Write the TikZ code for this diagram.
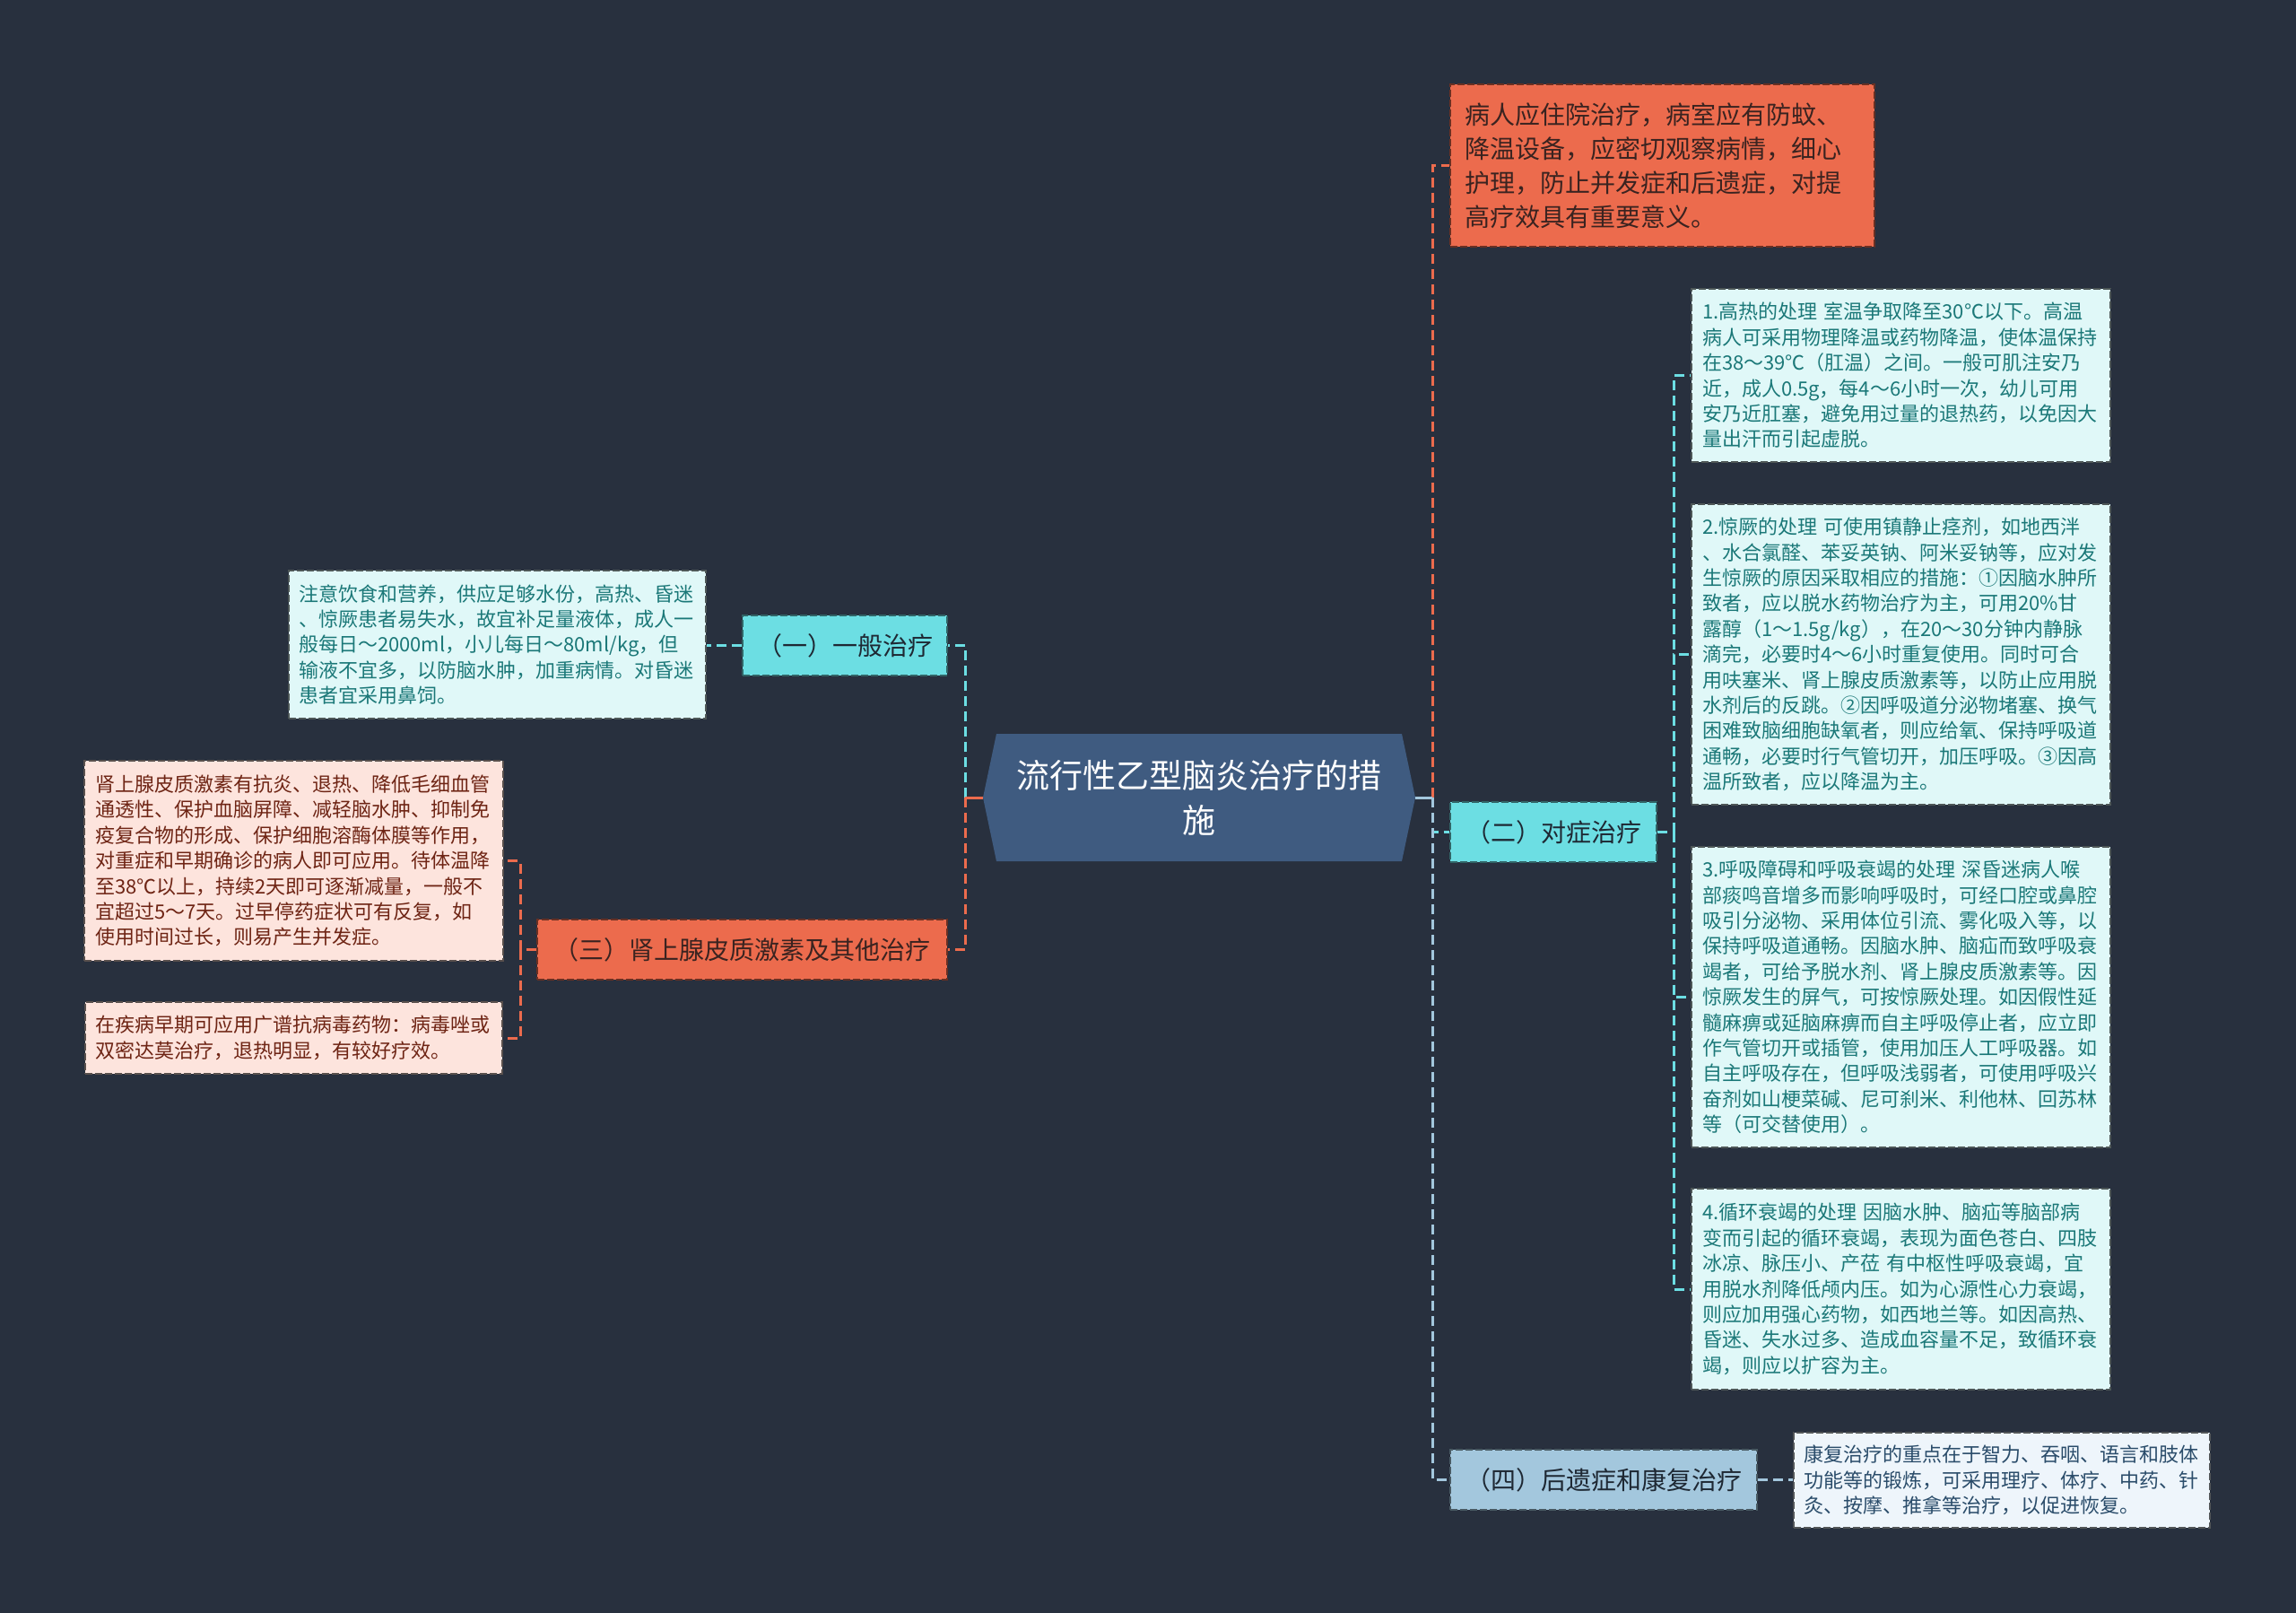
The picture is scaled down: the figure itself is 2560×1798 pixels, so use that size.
\documentclass[tikz,border=0pt]{standalone}
\usepackage{fontspec}
\newfontfamily\cjk{Noto Sans CJK SC}
\usetikzlibrary{calc}
\definecolor{bgc}{HTML}{28303E}
\definecolor{orangec}{HTML}{EC6B4D}
\definecolor{cyanc}{HTML}{6CDEE3}
\definecolor{lbluec}{HTML}{A3C7DD}
\definecolor{centerc}{HTML}{3F5B80}
\definecolor{leafcyan}{HTML}{E0F8F8}
\definecolor{leafpink}{HTML}{FDE4DD}
\definecolor{leafblue}{HTML}{EEF5FB}
\definecolor{tealtext}{HTML}{1B7878}
\definecolor{redtext}{HTML}{6E2414}
\definecolor{bluetext}{HTML}{2A4C6A}
\definecolor{darktext}{HTML}{1E2833}
\definecolor{orangetext}{HTML}{3A2320}
\tikzset{
  basebox/.style={inner ysep=0pt, line width=1.5pt, dash pattern=on 8pt off 3pt},
  branchbox/.style={basebox, inner xsep=0pt, font=\cjk\fontsize{28}{36}\selectfont, text=darktext, minimum height=67},
  leafbox/.style={basebox, align=left, font=\cjk\fontsize{22}{28.4}\selectfont},
  leafc/.style={leafbox, fill=leafcyan, draw=leafcyan!35!black, text=tealtext},
  leafp/.style={leafbox, fill=leafpink, draw=leafpink!35!black, text=redtext},
  leafb/.style={leafbox, fill=leafblue, draw=leafblue!35!black, text=bluetext},
  conn/.style={line width=3pt, dash pattern=on 11pt off 6pt},
  solidconn/.style={line width=3pt},
}
\begin{document}
\begin{tikzpicture}[x=1pt,y=-1pt]
\fill[bgc] (0,0) rectangle (2560,1798);
\useasboundingbox (0,0) rectangle (2560,1798);

% center
\fill[centerc] (1111,818) -- (1563,818) -- (1578,889) -- (1563,960) -- (1111,960) -- (1096,889) -- cycle;
\node[font=\cjk\fontsize{37}{50}\selectfont, text=white, align=center, inner sep=0pt,
      minimum width=482, minimum height=142] (c) at (1337,889) {流行性乙型脑炎治疗的措\\施};

% right side
\node[basebox, fill=orangec, draw=orangec!45!black, text=orangetext, align=left,
      font=\cjk\fontsize{28}{38}\selectfont, inner xsep=16pt, text width=441pt,
      minimum width=473, minimum height=181] (o1) at (1853.5,184.5)
  {病人应住院治疗，病室应有防蚊、\\降温设备，应密切观察病情，细心\\护理，防止并发症和后遗症，对提\\高疗效具有重要意义。};

\node[branchbox, fill=cyanc, draw=cyanc!45!black, minimum width=230] (n2) at (1732,927.5) {（二）对症治疗};

\node[leafc, inner xsep=12pt, text width=443pt, minimum width=467, minimum height=193] (r1) at (2119.5,418.5)
  {1.高热的处理 室温争取降至30℃以下。高温\\病人可采用物理降温或药物降温，使体温保持\\在38～39℃（肛温）之间。一般可肌注安乃\\近，成人0.5g，每4～6小时一次，幼儿可用\\安乃近肛塞，避免用过量的退热药，以免因大\\量出汗而引起虚脱。};

\node[leafc, inner xsep=12pt, text width=443pt, minimum width=467, minimum height=335] (r2) at (2119.5,729.5)
  {2.惊厥的处理 可使用镇静止痉剂，如地西泮\\、水合氯醛、苯妥英钠、阿米妥钠等，应对发\\生惊厥的原因采取相应的措施：①因脑水肿所\\致者，应以脱水药物治疗为主，可用20\%甘\\露醇（1～1.5g/kg），在20～30分钟内静脉\\滴完，必要时4～6小时重复使用。同时可合\\用呋塞米、肾上腺皮质激素等，以防止应用脱\\水剂后的反跳。②因呼吸道分泌物堵塞、换气\\困难致脑细胞缺氧者，则应给氧、保持呼吸道\\通畅，必要时行气管切开，加压呼吸。③因高\\温所致者，应以降温为主。};

\node[leafc, inner xsep=12pt, text width=443pt, minimum width=467, minimum height=335] (r3) at (2119.5,1111.5)
  {3.呼吸障碍和呼吸衰竭的处理 深昏迷病人喉\\部痰鸣音增多而影响呼吸时，可经口腔或鼻腔\\吸引分泌物、采用体位引流、雾化吸入等，以\\保持呼吸道通畅。因脑水肿、脑疝而致呼吸衰\\竭者，可给予脱水剂、肾上腺皮质激素等。因\\惊厥发生的屏气，可按惊厥处理。如因假性延\\髓麻痹或延脑麻痹而自主呼吸停止者，应立即\\作气管切开或插管，使用加压人工呼吸器。如\\自主呼吸存在，但呼吸浅弱者，可使用呼吸兴\\奋剂如山梗菜碱、尼可刹米、利他林、回苏林\\等（可交替使用）。};

\node[leafc, inner xsep=12pt, text width=443pt, minimum width=467, minimum height=224] (r4) at (2119.5,1437)
  {4.循环衰竭的处理 因脑水肿、脑疝等脑部病\\变而引起的循环衰竭，表现为面色苍白、四肢\\冰凉、脉压小、产莅 有中枢性呼吸衰竭，宜\\用脱水剂降低颅内压。如为心源性心力衰竭，\\则应加用强心药物，如西地兰等。如因高热、\\昏迷、失水过多、造成血容量不足，致循环衰\\竭，则应以扩容为主。};

\node[branchbox, fill=lbluec, draw=lbluec!45!black, minimum width=342] (n4) at (1788,1649.5) {（四）后遗症和康复治疗};

\node[leafb, inner xsep=11pt, text width=442pt, minimum width=464, minimum height=106] (k) at (2232,1650)
  {康复治疗的重点在于智力、吞咽、语言和肢体\\功能等的锻炼，可采用理疗、体疗、中药、针\\灸、按摩、推拿等治疗，以促进恢复。};

% left side
\node[branchbox, fill=cyanc, draw=cyanc!45!black, minimum width=228] (n1) at (942,719.5) {（一）一般治疗};

\node[leafc, inner xsep=11pt, text width=443pt, minimum width=465, minimum height=165] (l1) at (554.5,718.5)
  {注意饮食和营养，供应足够水份，高热、昏迷\\、惊厥患者易失水，故宜补足量液体，成人一\\般每日～2000ml，小儿每日～80ml/kg，但\\输液不宜多，以防脑水肿，加重病情。对昏迷\\患者宜采用鼻饲。};

\node[branchbox, fill=orangec, draw=orangec!45!black, text=orangetext, minimum width=457] (n3) at (827.5,1058.5) {（三）肾上腺皮质激素及其他治疗};

\node[leafp, inner xsep=12pt, text width=443pt, minimum width=467, minimum height=223] (p1) at (327.5,959.5)
  {肾上腺皮质激素有抗炎、退热、降低毛细血管\\通透性、保护血脑屏障、减轻脑水肿、抑制免\\疫复合物的形成、保护细胞溶酶体膜等作用，\\对重症和早期确诊的病人即可应用。待体温降\\至38℃以上，持续2天即可逐渐减量，一般不\\宜超过5～7天。过早停药症状可有反复，如\\使用时间过长，则易产生并发症。};

\node[leafp, inner xsep=11pt, text width=443pt, minimum width=465, minimum height=80] (p2) at (327.5,1157)
  {在疾病早期可应用广谱抗病毒药物：病毒唑或\\双密达莫治疗，退热明显，有较好疗效。};

% junctions
\coordinate (jR) at (1597,889);
\coordinate (jL) at (1076,889);
\coordinate (j2) at (1866,927.5);
\coordinate (j3) at (580,1058.5);

% connectors
\draw[conn, orangec] (jR) |- (o1.west);
\draw[conn, cyanc] (jR) |- (n2.west);
\draw[conn, lbluec] (jR) |- (n4.west);
\draw[solidconn, lbluec] (c.east) -- (jR);
\draw[conn, cyanc] (jL) |- (n1.east);
\draw[conn, orangec] (jL) |- (n3.east);
\draw[solidconn, orangec] (c.west) -- (jL);
\draw[conn, cyanc] (n2.east) -- (j2);
\foreach \r in {r1,r2,r3,r4} \draw[conn, cyanc] (j2) |- (\r.west);
\draw[conn, cyanc] (n1.west) -- (n1.west -| l1.east);
\draw[conn, orangec] (n3.west) -- (j3);
\draw[conn, orangec] (j3) |- (p1.east);
\draw[conn, orangec] (j3) |- (p2.east);
\draw[conn, lbluec] (n4.east) -- (n4.east -| k.west);
\end{tikzpicture}
\end{document}
